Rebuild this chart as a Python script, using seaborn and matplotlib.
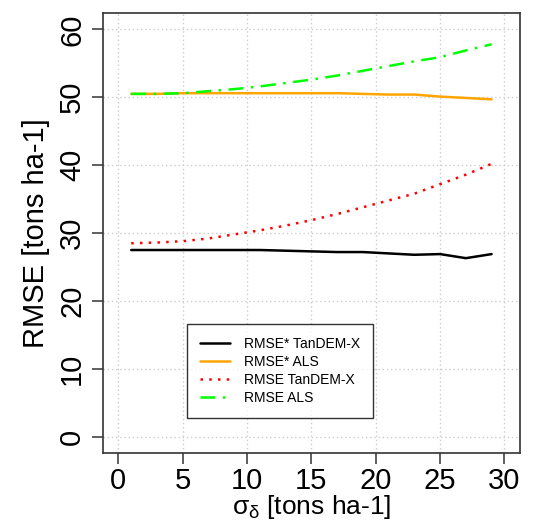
import numpy as np
import pandas as pd
import matplotlib
matplotlib.use("Agg")
import matplotlib.pyplot as plt
import seaborn as sns

sigma = [1, 3, 5, 7, 9, 11, 13, 15, 17, 19, 21, 23, 25, 27, 29]
rmse_star_tdx = [27.5, 27.5, 27.5, 27.5, 27.5, 27.5, 27.4, 27.3, 27.2, 27.2, 27.0, 26.8, 26.9, 26.3, 26.9]
rmse_star_als = [50.5, 50.5, 50.6, 50.6, 50.6, 50.6, 50.6, 50.6, 50.6, 50.5, 50.4, 50.4, 50.1, 49.9, 49.7]
rmse_tdx = [28.5, 28.6, 28.8, 29.2, 29.8, 30.4, 31.1, 31.9, 32.8, 33.8, 34.8, 35.8, 37.2, 38.6, 40.2]
rmse_als = [50.5, 50.5, 50.6, 50.9, 51.2, 51.6, 52.1, 52.6, 53.2, 53.9, 54.6, 55.3, 55.9, 56.9, 57.8]
labels = ["RMSE* TanDEM-X", "RMSE* ALS", "RMSE TanDEM-X", "RMSE ALS"]
colors = ["black", "#FFA500", "#FF0000", "#00FF00"]
xticks = [0, 5, 10, 15, 20, 25, 30]
yticks = [0, 10, 20, 30, 40, 50, 60]

sns.set_theme(style="white")
plt.rcParams['font.family'] = ['Liberation Sans', 'DejaVu Sans']
plt.rcParams['mathtext.fontset'] = 'custom'
plt.rcParams['mathtext.rm'] = 'Liberation Sans'
plt.rcParams['mathtext.it'] = 'Liberation Sans'
plt.rcParams['text.color'] = 'black'
plt.rcParams['axes.labelcolor'] = 'black'
plt.rcParams['xtick.color'] = 'black'
plt.rcParams['ytick.color'] = 'black'

fig = plt.figure(figsize=(5.36, 5.24), dpi=100)
ax = fig.add_axes([0.192, 0.1355, 0.778, 0.8395])

series = [rmse_star_tdx, rmse_star_als, rmse_tdx, rmse_als]
styles = ["-", "-", (0, (1, 2.5)), (0, (6, 3, 1, 3))]
for vals, lab, col, ls in zip(series, labels, colors, styles):
    df = pd.DataFrame({"x": sigma, "y": vals})
    sns.lineplot(data=df, x="x", y="y", ax=ax, color=col, linestyle=ls,
                 linewidth=1.8, label=lab)

ax.set_xlim(-1.2, 31.2)
ax.set_ylim(-2.4, 62.4)
ax.set_xticks(xticks)
ax.set_yticks(yticks)
ax.grid(True, color="#cccccc", linestyle=(0, (1, 2)), linewidth=1.0)
for s in ax.spines.values():
    s.set_color("#333333")
    s.set_linewidth(1.2)
    s.set_visible(True)
ax.tick_params(axis="both", direction="out", length=8, width=1.1, color="#333333",
               labelcolor="black", labelsize=21, bottom=True, left=True, pad=4)
ax.tick_params(axis="x", pad=2)
for t in ax.get_yticklabels():
    t.set_rotation(90)
    t.set_va("center")
ax.set_xlabel(r"$\sigma_\delta$ [tons ha-1]", fontsize=19, labelpad=-1, color="black")
ax.set_ylabel("RMSE [tons ha-1]", fontsize=21, labelpad=6, color="black")

leg = ax.legend(loc="upper left", bbox_to_anchor=(187 / 536, 1 - 324 / 524),
                bbox_transform=fig.transFigure, borderaxespad=0, fontsize=10,
                frameon=True, fancybox=False, edgecolor="black", handlelength=2.2,
                borderpad=0.9, labelspacing=0.3, handletextpad=1.0)
leg.get_frame().set_linewidth(1.0)
for t in leg.get_texts():
    t.set_color("black")

fig.savefig("out.png", dpi=100)
